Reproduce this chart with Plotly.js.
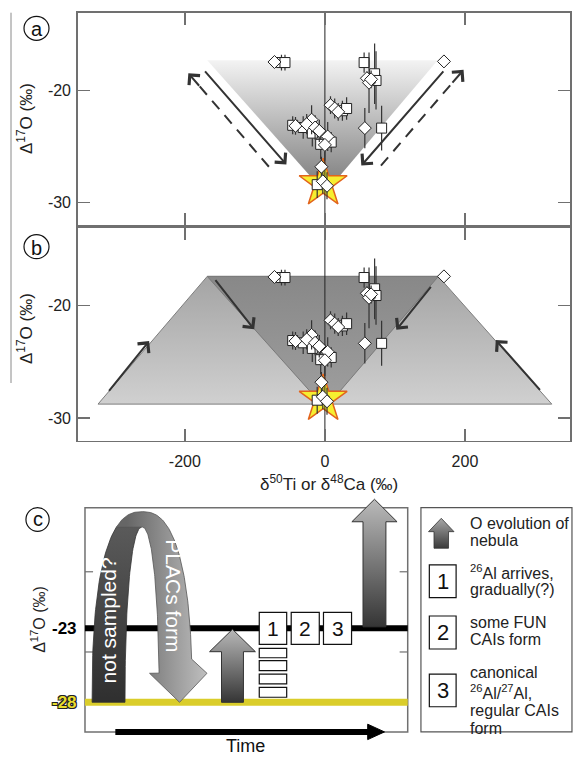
<!DOCTYPE html>
<html>
<head>
<meta charset="utf-8">
<script src="https://cdn.plot.ly/plotly-3.0.1.min.js"></script>
<style>
  html, body { margin: 0; padding: 0; background: #fff; }
  #chart { width: 576px; height: 757px; }
</style>
</head>
<body>
<div id="chart"></div>
<script>
// Δ17O versus δ50Ti / δ48Ca of refractory inclusions, plus a schematic time line.

// ---- measured inclusions (squares and diamonds), with 2σ errors on Δ17O ----
const sqX   = [-62, -57, 56, 71, 73, 25, 31, -46, -31, -18, -6, 9, 81, -11];
const sqY   = [-17.5, -17.5, -17.5, -18.5, -19.1, -21.8, -21.6, -23.1, -23.3, -23.8, -24.8, -24.6, -23.35, -28.4];
const sqErr = [0.7, 0.7, 0.9, 2.7, 2.6, 0.9, 1.0, 0.8, 1.0, 1.2, 1.3, 0.9, 2.0, 1.2];

const dmX   = [-72, 170, 60, 63, 66, 8, 14, 19, -42, -19, -26, -14, -8, 4, 0, -5, -3, 3, 57];
const dmY   = [-17.45, -17.4, -18.9, -19.3, -19.0, -21.3, -21.6, -21.9, -23.15, -22.6, -23.0, -23.3, -23.6, -24.1, -24.85, -26.8, -28.1, -28.5, -23.35];
const dmErr = [0, 0, 0.6, 2.7, 0.8, 0.8, 0.9, 0.8, 0.8, 1.3, 0.9, 1.1, 1.0, 1.3, 1.4, 0.9, 1.1, 1.2, 1.8];

// initial solar-nebula composition (star)
const starX = [-2.5];
const starY = [-28.3];

// axis ticks
const xTicks = [-200, 0, 200];
const xTickText = ['-200', '0', '200'];
const yTicks = [-30, -20];
const yTickText = ['-30', '-20'];

// schematic panel (c): Δ17O levels
const levelNebula = -23;
const levelStart = -28;

// ---------------------------------------------------------------
const FONT = 'Liberation Sans, Arial, sans-serif';
const W = 576, H = 757;
const px = v => v / W;          // page pixel -> paper x
const py = v => 1 - v / H;      // page pixel -> paper y

const xRange = [-353, 350];
const yRangeA = [-32, -13.05];
const yRangeB = [-32, -13.1];

function poly(xs, ys, xa, ya, grad, line) {
  return {
    type: 'scatter', mode: 'lines', x: xs.concat([xs[0]]), y: ys.concat([ys[0]]),
    xaxis: xa, yaxis: ya, fill: 'toself', fillgradient: grad,
    line: line || { width: 0, color: 'rgba(0,0,0,0)' },
    hoverinfo: 'skip', showlegend: false
  };
}
function vgrad(lo, hi, cLo, cHi) {
  return { type: 'vertical', start: lo, stop: hi, colorscale: [[0, cLo], [1, cHi]] };
}
function hgrad(lo, hi, cLo, cHi) {
  return { type: 'horizontal', start: lo, stop: hi, colorscale: [[0, cLo], [1, cHi]] };
}

// data marks shared by panels (a) and (b)
function dataTraces(xa, ya, yr) {
  return [
    { type: 'scatter', mode: 'markers', x: starX, y: starY, xaxis: xa, yaxis: ya,
      marker: { symbol: 'star', size: 36, color: '#f6ee30', line: { color: '#e2641c', width: 1.5 } },
      hoverinfo: 'skip', showlegend: false },
    { type: 'scatter', mode: 'lines', x: [0, 0], y: yr, xaxis: xa, yaxis: ya,
      line: { color: '#222', width: 1 }, hoverinfo: 'skip', showlegend: false },
    { type: 'scatter', mode: 'markers', x: sqX, y: sqY, xaxis: xa, yaxis: ya,
      error_y: { type: 'data', array: sqErr, visible: true, color: '#333', thickness: 1.2, width: 0 },
      marker: { symbol: 'square', size: 10, color: '#fff', line: { color: '#222', width: 1 } },
      showlegend: false },
    { type: 'scatter', mode: 'markers', x: dmX, y: dmY, xaxis: xa, yaxis: ya,
      error_y: { type: 'data', array: dmErr, visible: true, color: '#333', thickness: 1.2, width: 0 },
      marker: { symbol: 'diamond', size: 10, color: '#fff', line: { color: '#222', width: 1 } },
      showlegend: false }
  ];
}

// funnel regions
const vX = [-168, 161, 21.4, -21.4];
const vYa = [-17.3, -17.3, -27.6, -27.6];
const vXb = [-168, 162, 21.4, -21.4];
const vYb = [-17.4, -17.4, -27.6, -27.6];
const trapX = [-324, -168, 162, 324];
const trapY = [-28.75, -17.4, -17.4, -28.75];

const traces = [];
// panel (a)
traces.push(poly(vX, vYa, 'x', 'y', vgrad(-27.6, -17.3, '#888888', '#f3f3f3')));
// dashed shafts, panel (a)
const dashedA = [
  { tail: [-80, -26.8], head: [-195, -18.45] },
  { tail: [80, -26.7], head: [198, -18.15] }
];
dashedA.forEach(d => {
  const f = 0.9;
  traces.push({ type: 'scatter', mode: 'lines', xaxis: 'x', yaxis: 'y',
    x: [d.tail[0], d.tail[0] + f * (d.head[0] - d.tail[0])],
    y: [d.tail[1], d.tail[1] + f * (d.head[1] - d.tail[1])],
    line: { color: '#333', width: 2, dash: '11px,8px' }, hoverinfo: 'skip', showlegend: false });
});
dataTraces('x', 'y', yRangeA).forEach(t => traces.push(t));

// panel (b)
traces.push(poly(trapX, trapY, 'x2', 'y2', vgrad(-28.75, -17.4, '#d0d0d0', '#a4a4a4'), { color: '#7d7d7d', width: 1 }));
traces.push(poly(vXb, vYb, 'x2', 'y2', vgrad(-27.6, -17.4, '#9c9c9c', '#888888'), { color: '#7a7a7a', width: 1 }));
dataTraces('x2', 'y2', yRangeB).forEach(t => traces.push(t));

// ---- panel (c): schematic ----
// arch ribbon ("not sampled?" rising, "PLACs form" descending)
const archC = 17.7;
function se(a, b, n, deg) {
  const r = deg * Math.PI / 180, c = Math.cos(r), s = Math.sin(r);
  return [archC + a * Math.sign(c) * Math.pow(Math.abs(c), 2 / n), levelStart + b * Math.pow(Math.abs(s), 2 / n)];
}
const OA = 15.5, OB = 12.88, ON = 2.5;
const IA = 5.3, IB = 11.84, IN = 2.2;
const darkX = [], darkY = [];
for (let d = 180; d >= 116; d -= 2) { const p = se(OA, OB, ON, d); darkX.push(p[0]); darkY.push(p[1]); }
for (let d = 92; d <= 180; d += 2) { const p = se(IA, IB, IN, d); darkX.push(p[0]); darkY.push(p[1]); }
traces.push(poly(darkX, darkY, 'x3', 'y3', vgrad(-28, -15.1, '#2f2f2f', '#5e5e5e'), { color: '#333', width: 0.8 }));

const headBase = -26.04;
const lightX = [], lightY = [];
for (let d = 116; d >= 9; d -= 1) { const p = se(OA, OB, ON, d); if (p[1] >= headBase) { lightX.push(p[0]); lightY.push(p[1]); } }
lightX.push(37.8, 29.3, 20.0); lightY.push(headBase, levelStart, headBase);
for (let d = 6; d <= 92; d += 1) { const p = se(IA, IB, IN, d); if (p[1] >= headBase) { lightX.push(p[0]); lightY.push(p[1]); } }
traces.push(poly(lightX, lightY, 'x3', 'y3', hgrad(13, 37, '#666666', '#bcbcbc'), { color: '#555', width: 0.8 }));

function upArrow(cx, sh, hh, base, neck, tip) {
  return {
    x: [cx - sh, cx - sh, cx - hh, cx, cx + hh, cx + sh, cx + sh],
    y: [base, neck, neck, tip, neck, neck, base]
  };
}
const midArrow = upArrow(45.7, 3.4, 7.1, levelStart, -24.58, -23.07);
traces.push(poly(midArrow.x, midArrow.y, 'x3', 'y3', vgrad(levelStart, -23.07, '#353535', '#b8b8b8'), { color: '#333', width: 1 }));
const bigArrow = upArrow(89.7, 3.55, 7.0, -22.9, -15.8, -14.28);
traces.push(poly(bigArrow.x, bigArrow.y, 'x3', 'y3', vgrad(-22.9, -14.28, '#353535', '#bababa'), { color: '#333', width: 1 }));
const keyArrow = upArrow(110.4, 2.25, 3.95, -17.59, -16.47, -15.57);
traces.push(poly(keyArrow.x, keyArrow.y, 'x3', 'y3', vgrad(-17.59, -15.57, '#3a3a3a', '#a8a8a8'), { color: '#333', width: 0.8 }));

// ---------------------------------------------------------------
const frameAxis = {
  showline: true, linecolor: '#707070', linewidth: 1.5, mirror: 'ticks',
  ticks: 'inside', ticklen: 12, tickwidth: 1.5, tickcolor: '#707070',
  showgrid: false, zeroline: false, fixedrange: true,
  tickfont: { family: FONT, size: 16, color: '#222' }
};

const shapes = [];
const annotations = [];
function label(o) {
  return Object.assign({ showarrow: false, xanchor: 'center', yanchor: 'middle' }, o);
}

// circled panel letters
[['a', 36.5, 28.3], ['b', 36.5, 246.7]].forEach(([l, cx, cy]) => {
  shapes.push({ type: 'circle', xref: 'paper', yref: 'paper', x0: px(cx - 12.5), x1: px(cx + 12.5), y0: py(cy + 12), y1: py(cy - 12), line: { color: '#111', width: 1.2 } });
  annotations.push(label({ xref: 'paper', yref: 'paper', x: px(cx), y: py(cy + 1), text: l, font: { family: FONT, size: 20, color: '#111' } }));
});
// thin rule beside the y titles
shapes.push({ type: 'line', xref: 'paper', yref: 'paper', x0: px(11), x1: px(11), y0: py(12.7), y1: py(383), line: { color: '#8a8a8a', width: 1 } });

// y titles (a), (b) and x title
annotations.push(label({ xref: 'paper', yref: 'paper', x: px(25), y: py(119), text: 'Δ<sup>17</sup>O (‰)', textangle: -90, font: { family: FONT, size: 17, color: '#222' } }));
annotations.push(label({ xref: 'paper', yref: 'paper', x: px(25), y: py(329), text: 'Δ<sup>17</sup>O (‰)', textangle: -90, font: { family: FONT, size: 17, color: '#222' } }));
annotations.push(label({ xref: 'paper', yref: 'paper', x: px(329), y: py(483), text: 'δ<sup>50</sup>Ti or δ<sup>48</sup>Ca (‰)', font: { family: FONT, size: 17, color: '#222' } }));

// arrows in (a) and (b)
function arrowAnn(xr, yr, tail, head) {
  return { xref: xr, yref: yr, axref: xr, ayref: yr, x: head[0], y: head[1], ax: tail[0], ay: tail[1],
    text: '', showarrow: true, arrowhead: 4, arrowsize: 1.4, arrowwidth: 2, arrowcolor: '#333', standoff: 0 };
}
annotations.push(arrowAnn('x', 'y', [-173, -18.15], [-55, -26.6]));
annotations.push(arrowAnn('x', 'y', [171, -18.15], [52, -26.7]));
dashedA.forEach(d => {
  const f = 0.85;
  annotations.push(arrowAnn('x', 'y', [d.tail[0] + f * (d.head[0] - d.tail[0]), d.tail[1] + f * (d.head[1] - d.tail[1])], d.head));
});
annotations.push(arrowAnn('x2', 'y2', [-310, -27.7], [-251, -23.15]));
annotations.push(arrowAnn('x2', 'y2', [-158, -17.6], [-101, -22.1]));
annotations.push(arrowAnn('x2', 'y2', [153, -18.2], [102, -22.15]));
annotations.push(arrowAnn('x2', 'y2', [309, -27.62], [244, -23.05]));

// ---- panel (c) frame, levels, boxes ----
const C = { xref: 'x3', yref: 'y3' };
shapes.push(Object.assign({ type: 'rect', x0: 0, x1: 100, y0: -30, y1: -14.85, line: { color: '#707070', width: 1.5 }, layer: 'below' }, C));
[-19.18, -24.6].forEach(v => {
  shapes.push(Object.assign({ type: 'line', x0: 0, x1: 2.5, y0: v, y1: v, line: { color: '#707070', width: 1.2 }, layer: 'below' }, C));
  shapes.push(Object.assign({ type: 'line', x0: 97.5, x1: 100, y0: v, y1: v, line: { color: '#707070', width: 1.2 }, layer: 'below' }, C));
});
shapes.push(Object.assign({ type: 'line', x0: 0, x1: 100, y0: levelStart, y1: levelStart, line: { color: '#dacd2b', width: 7 }, layer: 'below' }, C));
shapes.push(Object.assign({ type: 'line', x0: 0, x1: 100, y0: levelNebula, y1: levelNebula, line: { color: '#000', width: 6 }, layer: 'below' }, C));

// time arrow along the bottom
shapes.push(Object.assign({ type: 'line', x0: 9.4, x1: 88.5, y0: -30, y1: -30, line: { color: '#000', width: 6 } }, C));
shapes.push(Object.assign({ type: 'path', path: 'M 87.6 -30.52 L 92.8 -30 L 87.6 -29.48 Z', fillcolor: '#000', line: { color: '#000', width: 1 } }, C));

// numbered stages on the -23 level
const stageBoxes = [[54.0, 62.5], [63.9, 72.6], [73.9, 82.6]];
stageBoxes.forEach((b, i) => {
  shapes.push(Object.assign({ type: 'rect', x0: b[0], x1: b[1], y0: -24.08, y1: -21.92, fillcolor: '#fff', line: { color: '#111', width: 1.2 } }, C));
  annotations.push(label(Object.assign({ x: (b[0] + b[1]) / 2, y: -23.0, text: String(i + 1), font: { family: FONT, size: 21, color: '#111' } }, C)));
});
[[-24.35, -24.99], [-25.19, -25.86], [-26.09, -26.76], [-26.99, -27.66]].forEach(r => {
  shapes.push(Object.assign({ type: 'rect', x0: 54.0, x1: 62.5, y0: r[1], y1: r[0], fillcolor: '#fff', line: { color: '#111', width: 1.2 } }, C));
});

// key box
shapes.push(Object.assign({ type: 'rect', x0: 104.1, x1: 150.9, y0: -30, y1: -14.85, line: { color: '#555', width: 1.2 }, layer: 'below' }, C));
[[-20.93, -18.72, '1'], [-24.40, -22.17, '2'], [-28.30, -26.09, '3']].forEach(b => {
  shapes.push(Object.assign({ type: 'rect', x0: 106.7, x1: 115.0, y0: b[0], y1: b[1], fillcolor: '#fff', line: { color: '#111', width: 1.2 } }, C));
  annotations.push(label(Object.assign({ x: 110.85, y: (b[0] + b[1]) / 2, text: b[2], font: { family: FONT, size: 22, color: '#111' } }, C)));
});
const keyLines = [
  ['O evolution of', -15.91], ['nebula', -17.08],
  ['<sup>26</sup>Al arrives,', -19.18], ['gradually(?)', -20.36],
  ['some FUN', -22.59], ['CAIs form', -23.79],
  ['canonical', -26.0], ['<sup>26</sup>Al/<sup>27</sup>Al,', -27.28], ['regular CAIs', -28.52], ['form', -29.76]
];
keyLines.forEach(k => {
  annotations.push(label(Object.assign({ x: 118.7, y: k[1], xanchor: 'left', text: k[0], font: { family: FONT, size: 16, color: '#222' } }, C)));
});

// panel (c) labels
shapes.push(Object.assign({ type: 'circle', x0: -14.7 - 3.6, x1: -14.7 + 3.6, y0: -15.65 - 0.8, y1: -15.65 + 0.8, line: { color: '#111', width: 1.2 } }, C));
annotations.push(label(Object.assign({ x: -14.7, y: -15.6, text: 'c', font: { family: FONT, size: 20, color: '#111' } }, C)));
annotations.push(label(Object.assign({ x: -14.6, y: -22.37, text: 'Δ<sup>17</sup>O (‰)', textangle: -90, font: { family: FONT, size: 16, color: '#222' } }, C)));
annotations.push(label(Object.assign({ x: -6.2, y: levelNebula, text: String(levelNebula), font: { family: FONT, size: 17, color: '#000', weight: 700 } }, C)));
annotations.push(label(Object.assign({ x: -6.2, y: levelStart, text: String(levelStart),
  font: { family: FONT, size: 17, color: '#e8dc2c', weight: 700, shadow: '-1px -1px 0 #222, 1px -1px 0 #222, -1px 1px 0 #222, 1px 1px 0 #222' } }, C)));
annotations.push(label(Object.assign({ x: 7.3, y: -22.5, text: 'not sampled?', textangle: -90, font: { family: FONT, size: 21, color: '#fff' } }, C)));
annotations.push(label(Object.assign({ x: 27.4, y: -20.8, text: 'PLACs form', textangle: 90, font: { family: FONT, size: 21, color: '#fff' } }, C)));
annotations.push(label(Object.assign({ x: 49.7, y: -30.93, text: 'Time', font: { family: FONT, size: 18, color: '#111' } }, C)));

const layout = {
  width: W, height: H,
  margin: { l: 0, r: 0, t: 0, b: 0 },
  paper_bgcolor: '#fff', plot_bgcolor: 'rgba(0,0,0,0)',
  showlegend: false,
  font: { family: FONT, color: '#222' },
  xaxis: Object.assign({}, frameAxis, { domain: [px(77.7), px(570)], range: xRange, anchor: 'y', tickvals: xTicks, showticklabels: false }),
  yaxis: Object.assign({}, frameAxis, { domain: [py(225), py(12.7)], range: yRangeA, anchor: 'x', tickvals: yTicks, ticktext: yTickText, ticklabelstandoff: 2 }),
  xaxis2: Object.assign({}, frameAxis, { domain: [px(77.7), px(570)], range: xRange, anchor: 'y2', tickvals: xTicks, ticktext: xTickText, ticklabelstandoff: 6 }),
  yaxis2: Object.assign({}, frameAxis, { domain: [py(440.7), py(228)], range: yRangeB, anchor: 'x2', tickvals: yTicks, ticktext: yTickText, ticklabelstandoff: 2 }),
  xaxis3: { visible: false, domain: [px(20), 1], range: [-20.14, 152.15], anchor: 'y3', fixedrange: true },
  yaxis3: { visible: false, domain: [0, py(490)], range: [-31.696, -13.655], anchor: 'x3', fixedrange: true },
  shapes: shapes,
  annotations: annotations
};

Plotly.newPlot('chart', traces, layout, { displayModeBar: false, staticPlot: true });
</script>
</body>
</html>
